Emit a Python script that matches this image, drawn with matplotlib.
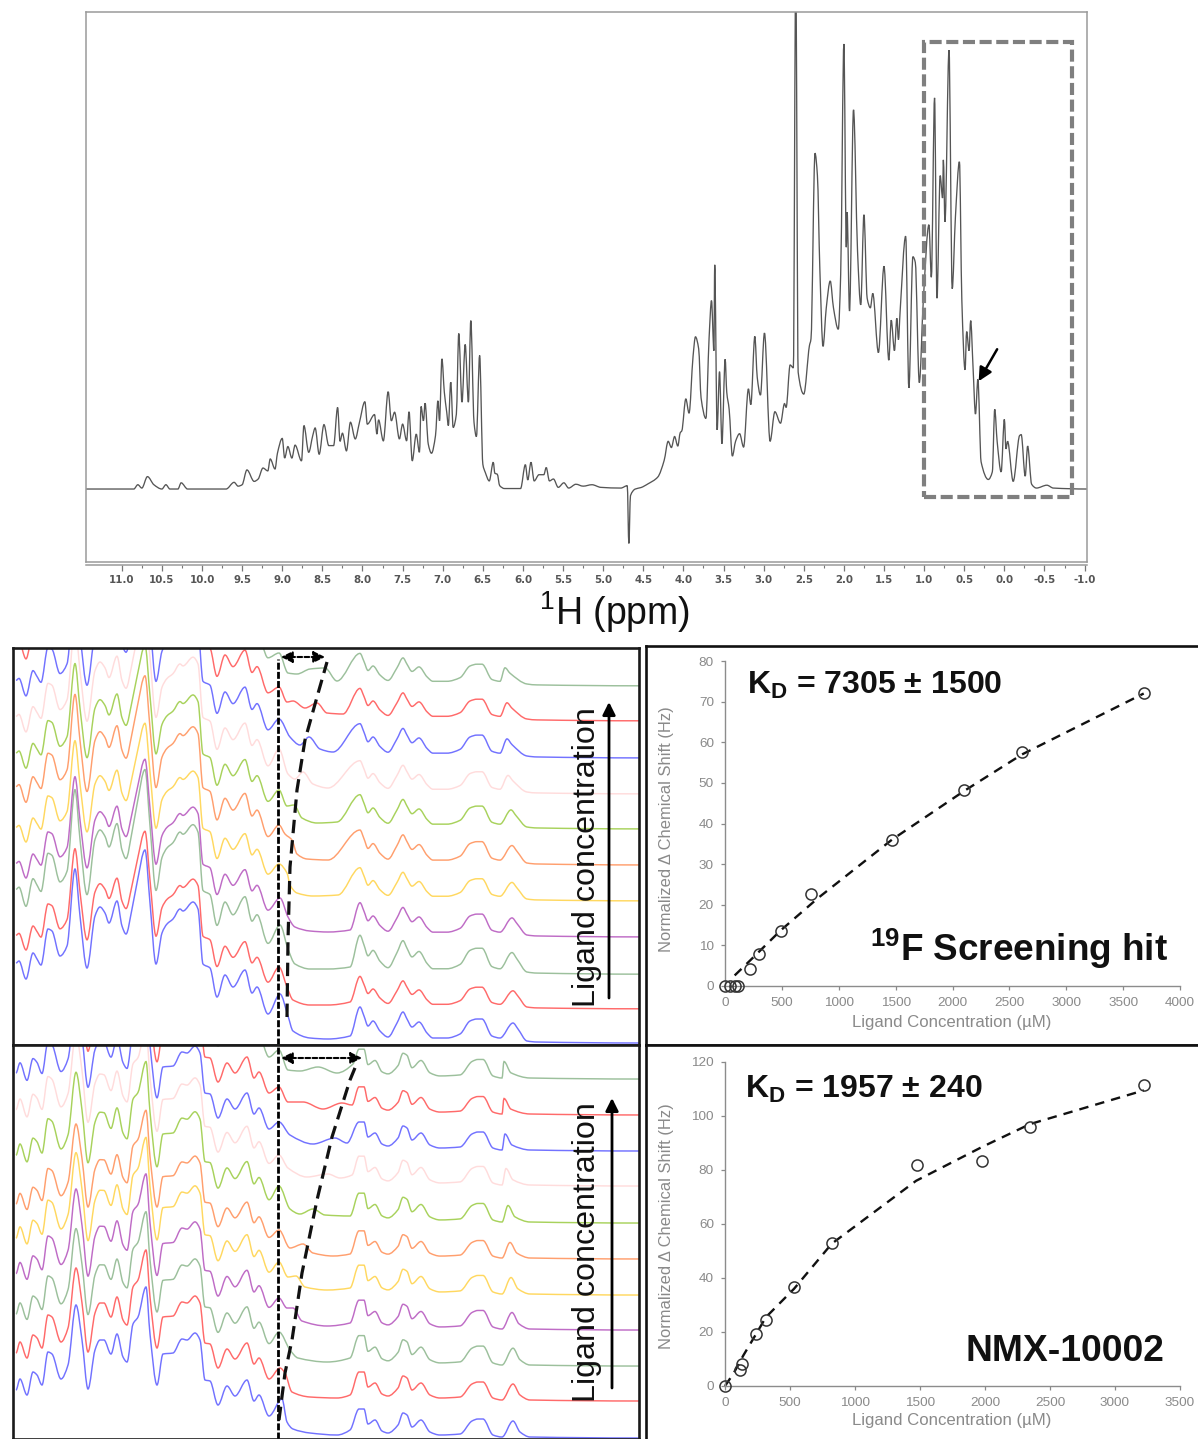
import numpy as np
import matplotlib
matplotlib.use("Agg")
import matplotlib.pyplot as plt
from matplotlib.patches import PathPatch, Rectangle
from matplotlib.path import Path

plt.rcParams["font.family"] = ["Liberation Sans", "DejaVu Sans"]
plt.rcParams["mathtext.fontset"] = "custom"
plt.rcParams["mathtext.rm"] = "Liberation Sans"
plt.rcParams["mathtext.bf"] = "Liberation Sans:bold"
plt.rcParams["mathtext.default"] = "regular"

W, H = 1198, 1439

# 1H spectrum, ppm / intensity
TOP_PPM = [11.45, 10.85, 10.8, 10.75, 10.68, 10.6, 10.5, 10.45, 10.4, 10.3, 10.26, 10.18, 9.7, 9.6, 9.55, 9.5, 9.44, 9.35,
           9.3, 9.24, 9.18, 9.15, 9.09, 9.06, 9.0, 8.97, 8.93, 8.88, 8.84, 8.76, 8.73, 8.67, 8.62, 8.59, 8.54, 8.48,
           8.42, 8.36, 8.31, 8.28, 8.25, 8.2, 8.15, 8.09, 8.04, 7.97, 7.94, 7.85, 7.82, 7.8, 7.74, 7.68, 7.64, 7.6,
           7.54, 7.5, 7.45, 7.42, 7.38, 7.33, 7.29, 7.27, 7.24, 7.22, 7.18, 7.14, 7.09, 7.06, 7.04, 7.01, 6.98, 6.95,
           6.93, 6.9, 6.87, 6.83, 6.8, 6.76, 6.72, 6.68, 6.65, 6.61, 6.58, 6.54, 6.5, 6.47, 6.42, 6.37, 6.35, 6.32,
           6.29, 6.23, 6.03, 5.97, 5.94, 5.9, 5.86, 5.8, 5.74, 5.71, 5.67, 5.62, 5.56, 5.49, 5.43, 5.34, 5.25, 5.14,
           5.03, 4.78, 4.7, 4.68, 4.66, 4.6, 4.53, 4.44, 4.32, 4.24, 4.19, 4.15, 4.11, 4.07, 4.04, 4.02, 3.97, 3.93,
           3.88, 3.85, 3.81, 3.78, 3.72, 3.68, 3.65, 3.62, 3.61, 3.58, 3.55, 3.52, 3.48, 3.46, 3.43, 3.39, 3.35, 3.3,
           3.25, 3.19, 3.16, 3.11, 3.08, 3.04, 2.99, 2.92, 2.86, 2.79, 2.74, 2.72, 2.67, 2.63, 2.6, 2.57, 2.5, 2.43,
           2.41, 2.36, 2.33, 2.3, 2.26, 2.22, 2.17, 2.13, 2.07, 2.04, 2.0, 1.97, 1.96, 1.93, 1.88, 1.83, 1.79, 1.75,
           1.71, 1.67, 1.64, 1.57, 1.5, 1.44, 1.41, 1.37, 1.34, 1.32, 1.3, 1.23, 1.19, 1.14, 1.11, 1.06, 1.01, 0.94,
           0.91, 0.87, 0.84, 0.8, 0.77, 0.76, 0.74, 0.69, 0.65, 0.61, 0.56, 0.53, 0.49, 0.47, 0.44, 0.42, 0.39, 0.36,
           0.33, 0.29, 0.2, 0.15, 0.12, 0.09, 0.04, 0.0, -0.02, -0.04, -0.11, -0.19, -0.21, -0.26, -0.29, -0.34, -0.4,
           -0.53, -0.61, -1.03]
TOP_INT = [0, 0, 0.9, 0.2, 2.6, 0.9, 0, 0.9, 0, 0, 1.3, 0, 0, 1.4, 0.6, 0.9, 4.0, 1.6,
           2.1, 4.4, 3.8, 6.3, 4.2, 7.5, 10.6, 6.5, 8.9, 6.5, 9.2, 5.9, 13.3, 7.7, 11.2, 12.8, 7.3, 13.5,
           9.1, 9.1, 17.1, 10, 11.7, 8, 14, 10.5, 13.8, 18.3, 13.6, 15.6, 11.5, 14.5, 10.1, 20.4, 14.3, 16.1,
           10.5, 13.6, 10.1, 16.2, 5.9, 11.5, 7.7, 17.3, 14.3, 18, 9.4, 7.5, 11.2, 18.5, 14.3, 27.3, 20.3, 16.1,
           13.3, 22.4, 12.9, 15.7, 32.6, 18.2, 30.3, 18.2, 35.3, 14, 11, 28, 5.2, 3.5, 1.7, 5.6, 3.3, 3.1,
           0.7, 0.1, 0.1, 5.1, 1.9, 5.6, 1.7, 3, 3, 4.5, 1.7, 2.1, 0.35, 1.3, 0.2, 1, 0.6, 0.9,
           0.35, 0.2, 0.7, -11.4, -1.4, 0, 0.3, 1.1, 2.5, 6, 10, 8.7, 11, 9, 11.8, 12.2, 18.9, 15.9,
           27.8, 31.9, 29.4, 19.1, 14.8, 31.7, 39.5, 29, 47, 12.4, 24.6, 9.5, 27.2, 20.3, 16.7, 6.9, 10, 11.6,
           8.8, 21, 17.7, 32, 23.4, 19.7, 32.7, 10, 16.2, 13.8, 17.9, 17.1, 26, 25.4, 110, 24.5, 19.9, 30,
           31.5, 70.4, 65.7, 46.3, 29.9, 37.9, 43.6, 38, 33.5, 45, 93.3, 50.7, 58, 37.3, 79.5, 49.9, 38.6, 57.5,
           40, 38, 41, 28.6, 46.7, 27, 35.4, 29, 35.8, 31.3, 37, 53, 21.2, 48.7, 47.5, 22.3, 39.6, 55.4,
           44.4, 82, 40, 65.7, 61, 69, 56, 92, 42, 57, 68.6, 39.6, 25, 33, 29, 35.3, 25.4, 15.7,
           23, 5.7, 2, 3.6, 16.7, 10, 3.6, 14.6, 8.4, 10, 1.6, 11.2, 11.4, 2.7, 9, 1, 0.2,
           0.8, 0.2, 0]
TOP_TICKS = [11.0, 10.5, 10.0, 9.5, 9.0, 8.5, 8.0, 7.5, 7.0, 6.5, 6.0, 5.5, 5.0, 4.5, 4.0, 3.5, 3.0, 2.5, 2.0, 1.5, 1.0,
             0.5, 0.0, -0.5, -1.0]

TRACE_COLORS = ["#7272ff", "#ff6a6a", "#9cc09c", "#bf6cc6", "#ffd860", "#ff9f6e", "#a8d25c", "#ffdcdc",
                "#7272ff", "#ff6a6a", "#9cc09c"]

# stacked traces, upper panel. x is px from the reference peak, height above each trace's own baseline
A_LEFT_X = [-262, -259, -252, -245, -241, -237, -230, -226, -218, -211, -203, -198, -191, -183, -178, -173, -169,
            -161, -156, -152, -146, -141, -133, -128, -122, -116, -111, -105, -98, -95, -85, -80, -75, -68, -61,
            -53, -45, -33, -26, -21, -10]
A_LEFT_H = [78, 80, 62, 88, 82, 76, 112, 110, 85, 95, 172, 125, 73, 125, 134, 128, 118,
            140, 115, 107, 132, 158, 191, 138, 77, 108, 117, 122, 132, 130, 139, 132, 77, 73, 44,
            66, 54, 71, 48, 54, 27]
A_RIGHT_X = [82, 86, 90, 95, 102, 110, 119, 125, 129, 134, 141, 149, 155, 169, 182, 192, 199, 204, 214, 222, 235,
             240, 249, 259, 362]
A_RIGHT_H = [34, 25, 15, 20, 10, 4, 18, 29, 22, 14, 19, 8, 3, 3, 7, 20, 22, 22, 5, 3, 18, 12, 0, -1, -2]
A_BASE = [4, 38, 73, 110, 146, 182, 218, 253, 289, 326, 361]
A_LEFT_SCALE = [1.0, 0.92, 1.06, 0.92, 0.92, 0.98, 0.95, 0.97, 0.97, 0.97, 0.97]
A_RIGHT_SCALE = [1.0, 0.9, 1.08, 0.95, 0.92, 0.97, 0.95, 0.92, 0.95, 0.9, 0.9]
A_DRIFT = [0, 0, 1, 1, 1, 1, 2, 5, 6, 6, 8]
# the shifting peak, one list per trace
A_MID_X = [[2, 10, 15, 32, 50, 72], [1, 9, 15, 32, 50, 72], [2, 10, 17, 32, 50, 72], [2, 10, 17, 32, 50, 72],
           [1, 9, 12, 19, 35, 60], [1, 7, 14, 19, 29, 50], [1, 9, 16, 24, 39, 59], [1, 10, 17, 25, 35, 50],
           [1, 12, 22, 31, 42, 55], [1, 9, 15, 27, 39, 49, 65], [1, 10, 19, 32, 47, 59]]
A_MID_H = [[47, 25, 10, 3, 2, 5], [40, 20, 7, 2, 2, 5], [47, 23, 8, 3, 3, 5], [37, 18, 8, 4, 3, 5],
           [35, 26, 14, 6, 3, 4], [38, 29, 23, 9, 4, 3], [37, 21, 22, 9, 4, 5], [43, 18, 13, 20, 8, 4],
           [37, 19, 11, 19, 7, 4], [32, 17, 18, 11, 16, 6, 5], [31, 11, 10, 15, 16, 3]]
A_CURVE_X = [9, 10, 12, 19, 27, 39, 49]
A_CURVE_Y = [28, 105, 178, 255, 305, 348, 383]

# lower panel
B_LEFT_X = [-262, -258, -251, -245, -241, -236, -230, -226, -217, -210, -202, -196, -190, -183, -178, -174, -167,
            -161, -155, -151, -145, -140, -132, -128, -121, -115, -105, -96, -91, -83, -78, -73, -68, -60, -51,
            -43, -31, -24, -19, -9]
B_LEFT_H = [47, 58, 42, 65, 62, 52, 85, 83, 58, 72, 132, 97, 48, 87, 97, 97, 83,
            103, 80, 75, 113, 120, 150, 103, 52, 83, 84, 98, 97, 104, 97, 57, 56, 32, 51,
            41, 57, 36, 42, 21]
B_RIGHT_X = [81, 86, 90, 97, 104, 110, 120, 125, 129, 134, 143, 152, 162, 182, 194, 200, 205, 215, 224, 235, 242,
             252, 362]
B_RIGHT_H = [28, 28, 13, 17, 6, 4, 12, 24, 22, 10, 17, 5, 2, 3, 16, 18, 18, 2, 0, 16, 5, 0, -1]
B_BASE = [2, 39, 74, 110, 145, 181, 217, 254, 289, 325, 361]
B_LEFT_SCALE = [1.0, 1.0, 1.02, 1.03, 1.04, 0.98, 1.06, 1.03, 1.0, 1.0, 1.0]
B_RIGHT_SCALE = [1.0, 1.0, 1.05, 1.03, 1.03, 0.97, 1.03, 1.03, 1.0, 0.97, 1.03]
B_LIFT = [0, 0, 3, 7, 7, 8, 17, 27, 30, 30, 30]
B_DRIFT = [0, 0, 0, 1, 2, 3, 5, 7, 8, 9, 9]
B_MID_X = [[4, 9, 15, 32, 59, 72], [2, 7, 14, 32, 59, 72], [1, 12, 20, 49, 72], [1, 9, 15, 24, 49, 72],
           [1, 10, 18, 27, 49, 72], [1, 12, 25, 35, 55, 72], [1, 12, 22, 35, 47, 72], [1, 10, 29, 50, 62, 74],
           [1, 12, 35, 57, 69], [1, 10, 25, 45, 64, 74], [1, 10, 22, 40, 59, 75]]
B_MID_H = [[38, 15, 8, 4, 2, 7], [32, 27, 8, 3, 2, 5], [33, 15, 7, 3, 7], [31, 21, 21, 8, 3, 6],
           [32, 17, 18, 7, 4, 6], [28, 10, 14, 5, 2, 4], [36, 13, 8, 13, 7, 6], [30, 17, 8, 11, 7, 10],
           [28, 15, 6, 12, 7], [27, 12, 12, 5, 11, 9], [28, 8, 7, 11, 5, 14]]
B_CURVE_X = [1, 7, 14, 24, 39, 54, 72, 79]
B_CURVE_Y = [19, 66, 99, 166, 239, 302, 359, 376]

# titration curves
C_CONC = [0, 45, 85, 115, 222, 303, 491, 760, 1467, 2102, 2611, 3681]
C_SHIFT = [0, 0, 0, 0, 4.2, 8, 13.5, 22.6, 36, 48.2, 57.5, 72.2]
C_FIT_X = [85, 225, 490, 820, 1467, 2102, 2611, 3681]
C_FIT_Y = [2.6, 6.4, 13.7, 21.7, 36, 48, 57, 72]
D_CONC = [0, 115, 134, 241, 315, 531, 821, 1475, 1976, 2346, 3224]
D_SHIFT = [0, 6, 8.3, 19.3, 24.3, 36.7, 53, 82, 83.3, 96, 111.4]
D_FIT_X = [0, 65, 142, 241, 315, 531, 821, 1470, 1976, 2346, 3222]
D_FIT_Y = [0, 4.6, 11.4, 19.4, 25.5, 36, 52.7, 76, 88.5, 97, 109.5]


def px_axes(fig, x0, y0, x1, y1):
    # axes from picture pixels, y counted from the top
    return fig.add_axes([x0 / W, 1 - y1 / H, (x1 - x0) / W, (y1 - y0) / H])


def smooth_path(x, y):
    # rounded peaks: slopes flat at the extremes, so nothing overshoots the read values
    x = np.asarray(x, float)
    y = np.asarray(y, float)
    d = np.diff(y) / np.diff(x)
    m = np.zeros(len(x))
    for i in range(1, len(x) - 1):
        if d[i - 1] * d[i] > 0:
            m[i] = 2 * d[i - 1] * d[i] / (d[i - 1] + d[i])
    verts = [(x[0], y[0])]
    codes = [Path.MOVETO]
    for i in range(len(x) - 1):
        dx = (x[i + 1] - x[i]) / 3
        verts += [(x[i] + dx, y[i] + m[i] * dx), (x[i + 1] - dx, y[i + 1] - m[i + 1] * dx), (x[i + 1], y[i + 1])]
        codes += [Path.CURVE4] * 3
    return Path(verts, codes)


def stack_panel(ax, left_x, left_h, right_x, right_h, base, lscale, rscale, drift, mid_x, mid_h, lift=None):
    left_x, left_h = np.array(left_x, float), np.array(left_h, float)
    right_x, right_h = np.array(right_x, float), np.array(right_h, float)
    for i, col in enumerate(TRACE_COLORS):
        yl = left_h * lscale[i]
        if lift is not None:
            yl = yl + lift[i] * np.clip((-left_x - 120) / 142, 0, 1)
        rx = right_x.copy()
        rx[(rx >= 226) & (rx <= 245)] -= drift[i]
        x = np.concatenate([left_x, mid_x[i], rx])
        y = np.concatenate([yl, mid_h[i], right_h * rscale[i]]) + base[i]
        ax.add_patch(PathPatch(smooth_path(x, y), fill=False, ec=col, lw=1.05, zorder=2))
    ax.set_xlim(-265, 361)
    ax.set_xticks([])
    ax.set_yticks([])
    for s in ax.spines.values():
        s.set_linewidth(1.9)
        s.set_color("#1a1a1a")
        s.set_zorder(6)


def titration(ax, conc, shift, fit_x, fit_y, xmax, xstep, ymax, ystep):
    ax.plot(fit_x, fit_y, color="#111111", lw=1.7, dashes=(4, 3), zorder=2, clip_on=False)
    ax.plot(conc, shift, "o", mfc="none", mec="#333333", mew=1.1, ms=8, zorder=3, clip_on=False)
    ax.set_xlim(0, xmax)
    ax.set_ylim(0, ymax)
    ax.set_xticks(np.arange(0, xmax + 1, xstep))
    ax.set_yticks(np.arange(0, ymax + 1, ystep))
    ax.spines["top"].set_visible(False)
    ax.spines["right"].set_visible(False)
    for s in ("left", "bottom"):
        ax.spines[s].set_color("#8c8c8c")
        ax.spines[s].set_linewidth(1.0)
    ax.tick_params(colors="#8a8a8a", labelsize=9.7, length=3, width=0.9, pad=5)
    ax.tick_params(axis="x", direction="out")
    ax.set_facecolor("none")


def main():
    fig = plt.figure(figsize=(W / 100, H / 100), dpi=100)

    # ---- spectrum on top ----
    ax = px_axes(fig, 86, 12, 1087, 562)
    ax.add_patch(PathPatch(smooth_path(TOP_PPM, TOP_INT), fill=False, ec="#555555", lw=0.95, zorder=2))
    ax.set_xlim(11.446, -1.03)
    ax.set_ylim(-15.3, 100)
    ax.set_yticks([])
    for s in ax.spines.values():
        s.set_color("#9a9a9a")
        s.set_linewidth(1.1)
    ax.spines["bottom"].set_position(("outward", 2.2))
    # spine move resets the ticks, so style them after it
    ax.set_xticks(TOP_TICKS)
    ax.set_xticklabels([f"{t:.1f}" for t in TOP_TICKS])
    ax.set_xticks(np.array(TOP_TICKS[:-1]) - 0.25, minor=True)
    ax.tick_params(axis="x", which="major", length=4, width=0.9, color="#777777", pad=3)
    ax.tick_params(axis="x", which="minor", length=2, width=0.8, color="#777777")
    plt.setp(ax.get_xticklabels(), family="DejaVu Sans", weight="bold", size=7.4, color="#555555")
    ax.axhline(-15.3, color="#9a9a9a", lw=1.1, clip_on=False)
    ax.add_patch(Rectangle((1.0, -1.7), -1.84, 95.4, fill=False, ec="#7f7f7f", lw=3.0, ls=(0, (2.9, 1.1)), zorder=4))
    ax.annotate("", xy=(0.32, 22.6), xytext=(0.09, 29.3),
                arrowprops=dict(arrowstyle="-|>", color="black", lw=1.8, mutation_scale=20, shrinkA=0, shrinkB=0))
    fig.text(615 / W, 1 - 612 / H, "$^{1}$H (ppm)", ha="center", va="center", fontsize=27, color="#111111")

    # ---- stacked traces ----
    ax = px_axes(fig, 13, 648, 639, 1045)
    stack_panel(ax, A_LEFT_X, A_LEFT_H, A_RIGHT_X, A_RIGHT_H, A_BASE, A_LEFT_SCALE, A_RIGHT_SCALE, A_DRIFT,
                A_MID_X, A_MID_H)
    ax.set_ylim(0, 397)
    ax.plot([0, 0], [0, 386], color="black", lw=2.0, dashes=(2.5, 0.8), zorder=4)
    ax.plot(A_CURVE_X, A_CURVE_Y, color="#111111", lw=2.3, dashes=(4.2, 2.2), zorder=4)
    ax.annotate("", xy=(47, 388), xytext=(3, 388),
                arrowprops=dict(arrowstyle="<|-|>", color="black", lw=1.5, ls=(0, (2.2, 1.2)), mutation_scale=17,
                                shrinkA=0, shrinkB=0), zorder=5)
    ax.annotate("", xy=(331, 343), xytext=(331, 47),
                arrowprops=dict(arrowstyle="-|>", color="black", lw=2.0, mutation_scale=19, shrinkA=0, shrinkB=0))
    ax.text(309, 188, "Ligand concentration", rotation=90, ha="center", va="center", fontsize=23.2, color="#111111",
            zorder=5)

    ax = px_axes(fig, 13, 1045, 639, 1439)
    stack_panel(ax, B_LEFT_X, B_LEFT_H, B_RIGHT_X, B_RIGHT_H, B_BASE, B_LEFT_SCALE, B_RIGHT_SCALE, B_DRIFT,
                B_MID_X, B_MID_H, lift=B_LIFT)
    ax.set_ylim(0, 394)
    ax.plot([0, 0], [0, 394], color="black", lw=2.0, dashes=(2.5, 0.8), zorder=4)
    ax.plot(B_CURVE_X, B_CURVE_Y, color="#111111", lw=2.3, dashes=(4.2, 2.2), zorder=4)
    ax.annotate("", xy=(3, 381), xytext=(84, 381),
                arrowprops=dict(arrowstyle="<|-|>", color="black", lw=1.5, ls=(0, (2.2, 1.2)), mutation_scale=17,
                                shrinkA=0, shrinkB=0), zorder=5)
    ax.annotate("", xy=(334, 341), xytext=(334, 51),
                arrowprops=dict(arrowstyle="-|>", color="black", lw=2.0, mutation_scale=19, shrinkA=0, shrinkB=0))
    ax.text(309, 187, "Ligand concentration", rotation=90, ha="center", va="center", fontsize=23.2, color="#111111",
            zorder=5)

    # ---- frames of the right column ----
    for y0, y1 in [(646, 1045), (1045, 1441)]:
        fr = px_axes(fig, 646, y0, 1200, y1)
        fr.set_xticks([])
        fr.set_yticks([])
        for s in fr.spines.values():
            s.set_linewidth(1.9)
            s.set_color("#111111")

    # ---- titration plots ----
    ax = px_axes(fig, 725, 661, 1180, 986)
    titration(ax, C_CONC, C_SHIFT, C_FIT_X, C_FIT_Y, 4000, 500, 80, 10)
    fig.text(952 / W, 1 - 1022 / H, "Ligand Concentration (µM)", ha="center", va="center", fontsize=12.1, color="#8a8a8a")
    fig.text(667 / W, 1 - 829 / H, "Normalized Δ Chemical Shift (Hz)", rotation=90, ha="center", va="center",
             fontsize=11.9, color="#8a8a8a")
    fig.text(747 / W, 1 - 694 / H, r"$\mathbf{K_D}$ = 7305 ± 1500", ha="left", va="baseline", fontsize=23,
             weight="bold", color="#111111")
    fig.text(870 / W, 1 - 961 / H, r"$\mathbf{^{19}F}$ Screening hit", ha="left", va="baseline", fontsize=26.6,
             weight="bold", color="#111111")

    ax = px_axes(fig, 725, 1062, 1180, 1386)
    titration(ax, D_CONC, D_SHIFT, D_FIT_X, D_FIT_Y, 3500, 500, 120, 20)
    fig.text(952 / W, 1 - 1421 / H, "Ligand Concentration (µM)", ha="center", va="center", fontsize=12.1, color="#8a8a8a")
    fig.text(667 / W, 1 - 1226 / H, "Normalized Δ Chemical Shift (Hz)", rotation=90, ha="center", va="center",
             fontsize=11.9, color="#8a8a8a")
    fig.text(745 / W, 1 - 1098 / H, r"$\mathbf{K_D}$ = 1957 ± 240", ha="left", va="baseline", fontsize=23,
             weight="bold", color="#111111")
    fig.text(966 / W, 1 - 1361 / H, "NMX-10002", ha="left", va="baseline", fontsize=26.8, weight="bold", color="#111111")

    fig.savefig("out.png", dpi=100)
    plt.close(fig)


if __name__ == "__main__":
    main()
